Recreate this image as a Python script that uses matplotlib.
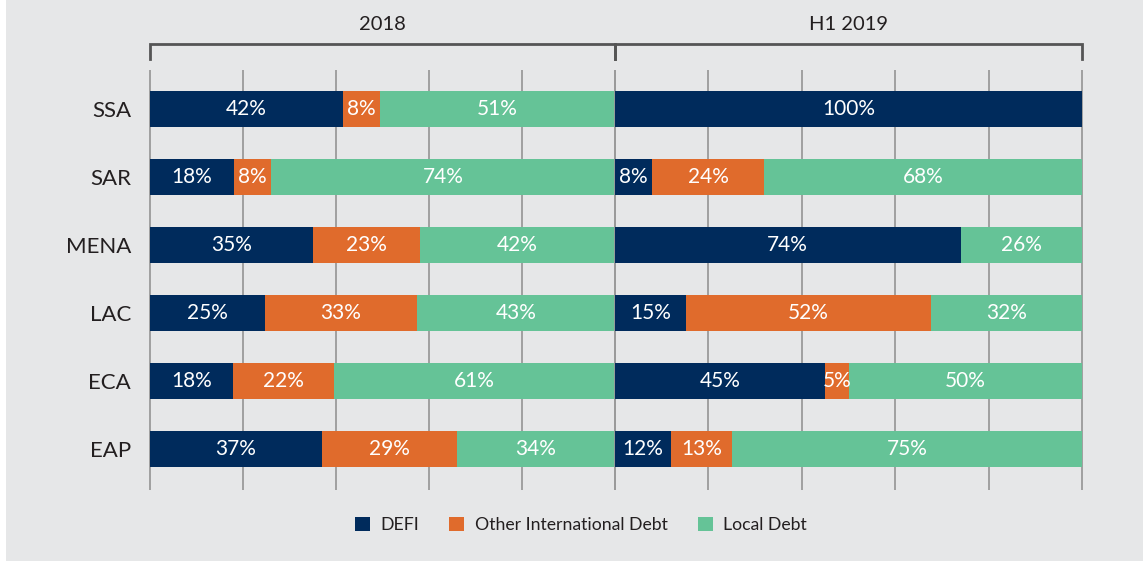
import matplotlib
matplotlib.use("Agg")
import matplotlib.pyplot as plt
from matplotlib.patches import Patch, Rectangle
import numpy as np

plt.rcParams['font.family'] = ['Lato', 'DejaVu Sans']

regions = ["SSA", "SAR", "MENA", "LAC", "ECA", "EAP"]
series = ["DEFI", "Other International Debt", "Local Debt"]
panels = ["2018", "H1 2019"]

defi_2018 = [42, 18, 35, 25, 18, 37]
other_2018 = [8, 8, 23, 33, 22, 29]
local_2018 = [51, 74, 42, 43, 61, 34]

defi_2019 = [100, 8, 74, 15, 45, 12]
other_2019 = [0, 24, 0, 52, 5, 13]
local_2019 = [0, 68, 26, 32, 50, 75]

colors = ["#002B5C", "#E06B2C", "#65C397"]
bg = "#E6E7E8"
txt = "#231F20"
grid_c = "#9A9A9A"
bracket_c = "#555555"

W, H = 1143, 561
fig = plt.figure(figsize=(W / 100, H / 100), dpi=100, facecolor=bg)
fig.patches.append(Rectangle((0, 0), 6 / W, 1, transform=fig.transFigure,
                             facecolor="white", edgecolor="none", zorder=-10))

y_top, y_bot = 70, 490
panel_x = [(150, 615), (615, 1082)]
data = [
    [defi_2018, other_2018, local_2018],
    [defi_2019, other_2019, local_2019],
]

ypos = np.arange(len(regions))
for pi, (x0, x1) in enumerate(panel_x):
    ax = fig.add_axes([x0 / W, (H - y_bot) / H, (x1 - x0) / W, (y_bot - y_top) / H])
    ax.set_facecolor("none")
    ax.set_xlim(0, 100)
    ax.set_ylim(5 + 41 / 68, -39 / 68)
    for s in ax.spines.values():
        s.set_visible(False)
    ax.set_xticks([])
    ax.tick_params(axis="y", length=0, pad=13.5, labelsize=16, labelcolor=txt)
    if pi == 0:
        ax.set_yticks(ypos)
        ax.set_yticklabels(regions)
    else:
        ax.set_yticks([])
    ax.vlines([0, 20, 40, 60, 80, 100], -39 / 68, 5 + 41 / 68, color=grid_c,
              lw=1.3, zorder=0, clip_on=False)

    vals = np.array(data[pi], dtype=float)
    totals = vals.sum(axis=0)
    widths = vals / totals * 100
    left = np.zeros(len(regions))
    for si in range(3):
        ax.barh(ypos, widths[si], left=left, height=36 / 68, color=colors[si],
                zorder=2, linewidth=0)
        for ri in range(len(regions)):
            if vals[si][ri] > 0:
                ax.text(left[ri] + widths[si][ri] / 2, ypos[ri], f"{int(vals[si][ri])}%",
                        ha="center", va="center", color="white", fontsize=15, zorder=3)
        left = left + widths[si]

    # bracket
    yb = (y_bot - 44) / (y_bot - y_top)
    yt = (y_bot - 59) / (y_bot - y_top)
    ax.plot([0, 0, 1, 1], [yt, yb, yb, yt], transform=ax.transAxes, color=bracket_c,
            lw=2, clip_on=False, solid_joinstyle="miter")
    ax.text(0.5, (y_bot - 25) / (y_bot - y_top), panels[pi], transform=ax.transAxes,
            ha="center", va="center", fontsize=14.5, color=txt)

handles = [Patch(facecolor=c, edgecolor="none") for c in colors]
fig.legend(handles, series, loc="center", bbox_to_anchor=(581 / W, (H - 525) / H),
           ncol=3, frameon=False, fontsize=12.7, handlelength=0.85, handleheight=0.85,
           handletextpad=0.6, columnspacing=1.7, labelcolor=txt)

fig.savefig("out.png", dpi=100, facecolor=bg)
